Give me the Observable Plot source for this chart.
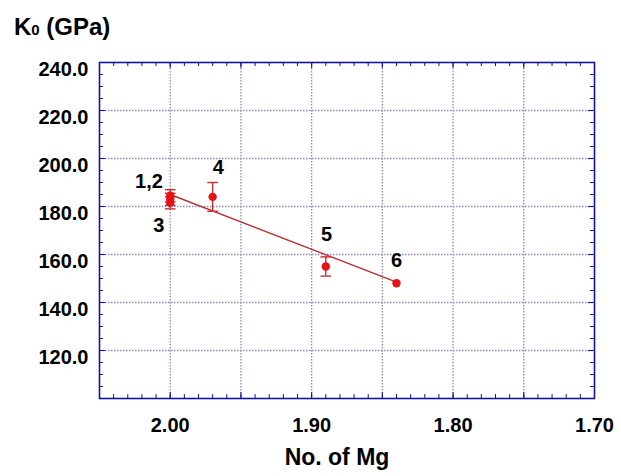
<!DOCTYPE html>
<html><head><meta charset="utf-8">
<script src="https://cdn.jsdelivr.net/npm/d3@7"></script>
<script src="https://cdn.jsdelivr.net/npm/@observablehq/plot@0.6"></script>
<style>
body{margin:0;background:#fff;}
#chart{width:621px;height:476px;}
</style>
</head><body><div id="chart"></div>
<script>
// Data
const mg = [2.00, 2.00, 2.00, 1.97, 1.89, 1.84];
const k0 = [184.5, 183.0, 181.5, 184.0, 155.0, 148.0];
const k0Err = [2.5, 2.5, 2.5, 6.0, 4.0, 0];
const fitMg = [2.00, 1.84];
const fitK0 = [185.0, 148.5];
const labelText = ["1,2", "3", "4", "5", "6"];
const labelMg = [2.015, 2.008, 1.966, 1.8895, 1.84];
const labelK0 = [190.4, 172.1, 196.3, 168.5, 157.3];
const xTicks = [2.00, 1.90, 1.80, 1.70];
const yTicks = [120, 140, 160, 180, 200, 220, 240];
const xGrid = [2.00, 1.95, 1.90, 1.85, 1.80, 1.75];
const yGrid = [120, 140, 160, 180, 200, 220];
const xMinor = d3.range(171, 205).map(d => d / 100);
const yMinor = d3.range(21, 48).map(d => d * 5);

const points = mg.map((m, i) => ({mg: m, k0: k0[i], lo: k0[i] - k0Err[i], hi: k0[i] + k0Err[i], err: k0Err[i]}));
const bars = points.filter(d => d.err > 0);
const fit = fitMg.map((m, i) => ({mg: m, k0: fitK0[i]}));
const labels = labelText.map((t, i) => ({t, mg: labelMg[i], k0: labelK0[i]}));

const W = 621, H = 476;
const mL = 99, mR = 27, mT = 62, mB = 78;
const innerW = W - mL - mR, innerH = H - mT - mB;
const frameColor = "#1414a0";
const gridColor = "#8a8ac0";
const font = "'Liberation Sans', Arial, sans-serif";

const capSymbol = {draw(ctx, size) { const w = Math.sqrt(size); ctx.moveTo(-w, 0); ctx.lineTo(w, 0); }};

const chart = Plot.plot({
  width: W, height: H,
  marginLeft: mL, marginRight: mR, marginTop: mT, marginBottom: mB,
  style: {fontFamily: font, background: "#fff", overflow: "visible"},
  x: {domain: [2.05, 1.70], axis: null},
  y: {domain: [100, 240], axis: null},
  marks: [
    Plot.gridX(xGrid, {stroke: gridColor, strokeOpacity: 1, strokeDasharray: "1.5,1.5", strokeWidth: 1.3}),
    Plot.gridY(yGrid, {stroke: gridColor, strokeOpacity: 1, strokeDasharray: "1.5,1.5", strokeWidth: 1.3}),
    // inside ticks
    Plot.tickX(xMinor, {x: d => d, stroke: frameColor, insetTop: innerH - 4}),
    Plot.tickX(xMinor, {x: d => d, stroke: frameColor, insetBottom: innerH - 4}),
    Plot.tickX(xGrid, {x: d => d, stroke: frameColor, insetTop: innerH - 6}),
    Plot.tickX(xGrid, {x: d => d, stroke: frameColor, insetBottom: innerH - 6}),
    Plot.tickY(yMinor, {y: d => d, stroke: frameColor, insetRight: innerW - 4}),
    Plot.tickY(yMinor, {y: d => d, stroke: frameColor, insetLeft: innerW - 4}),
    Plot.tickY(yGrid, {y: d => d, stroke: frameColor, insetRight: innerW - 6}),
    Plot.tickY(yGrid, {y: d => d, stroke: frameColor, insetLeft: innerW - 6}),
    Plot.frame({stroke: frameColor, strokeWidth: 1.6}),
    Plot.axisX(xTicks, {tickSize: 0, tickPadding: 19, tickFormat: d => d.toFixed(2), fontSize: 20, fontWeight: "bold", fill: "#000", label: null}),
    Plot.axisY(yTicks, {tickSize: 0, tickPadding: 11, tickFormat: d => d.toFixed(1), fontSize: 20, fontWeight: "bold", fill: "#000", dy: 7, label: null}),
    Plot.line(fit, {x: "mg", y: "k0", stroke: "#b83232", strokeWidth: 1.4}),
    Plot.ruleX(bars, {x: "mg", y1: "lo", y2: "hi", stroke: "#c83030", strokeWidth: 1.4}),
    Plot.dot(bars, {x: "mg", y: "lo", symbol: capSymbol, r: 3, stroke: "#c83030", strokeWidth: 1.4, fill: "none"}),
    Plot.dot(bars, {x: "mg", y: "hi", symbol: capSymbol, r: 3, stroke: "#c83030", strokeWidth: 1.4, fill: "none"}),
    Plot.dot(points, {x: "mg", y: "k0", r: 4.2, fill: "#e41414", stroke: "none"}),
    Plot.text(labels, {x: "mg", y: "k0", text: "t", fontSize: 20, fontWeight: "bold", fill: "#000"})
  ]
});
document.getElementById("chart").appendChild(chart);

const svg = d3.select(chart);
const title = svg.append("text")
  .attr("x", 14).attr("y", 35).attr("text-anchor", "start")
  .attr("font-family", font).attr("font-size", 24).attr("font-weight", "bold").attr("fill", "#000");
title.append("tspan").text("K");
title.append("tspan").attr("font-size", 15).text("0");
title.append("tspan").text(" (GPa)");
svg.append("text")
  .attr("x", 337).attr("y", 465).attr("text-anchor", "middle")
  .attr("font-family", font).attr("font-size", 23).attr("font-weight", "bold").attr("fill", "#000")
  .text("No. of Mg");
</script>
</body></html>
